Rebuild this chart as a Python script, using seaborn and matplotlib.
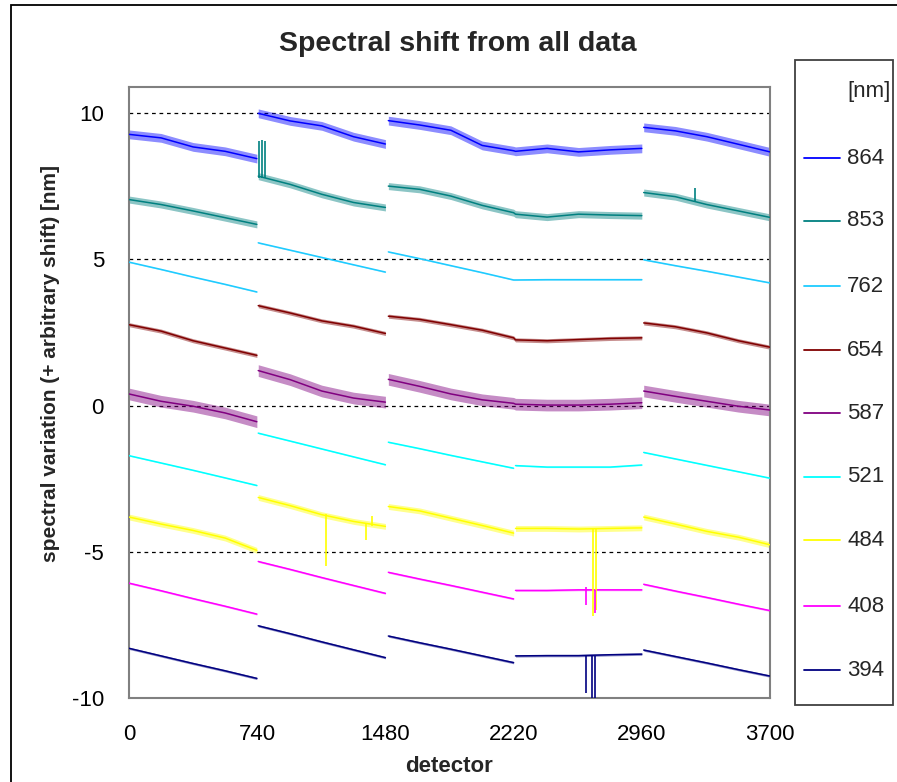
import numpy as np
import pandas as pd
import matplotlib
matplotlib.use("Agg")
import matplotlib.pyplot as plt
import seaborn as sns
from matplotlib.lines import Line2D
from matplotlib.patches import Rectangle

# ---------------- data ----------------
wavelengths = ["864", "853", "762", "654", "587", "521", "484", "408", "394"]

# detector positions of the anchor points (5 detector blocks, 5 anchors each)
x_anchor = [0, 185, 370, 555, 738,
            746, 930, 1113, 1296, 1480,
            1497, 1678, 1858, 2039, 2220,
            2231, 2413, 2595, 2778, 2960,
            2971, 3153, 3335, 3518, 3700]
block_id = [0] * 5 + [1] * 5 + [2] * 5 + [3] * 5 + [4] * 5

# series whose 3rd and 4th detector blocks run on without a break
joined_blocks_3_4 = ["864", "853", "762", "654", "587"]

y_864 = [9.28, 9.16, 8.85, 8.70, 8.45,
         10.00, 9.74, 9.57, 9.20, 8.95,
         9.75, 9.60, 9.42, 8.90, 8.72,
         8.70, 8.80, 8.68, 8.75, 8.80,
         9.52, 9.40, 9.20, 8.94, 8.68]
y_853 = [7.05, 6.88, 6.66, 6.43, 6.20,
         7.85, 7.57, 7.23, 6.95, 6.78,
         7.51, 7.40, 7.17, 6.85, 6.60,
         6.55, 6.45, 6.55, 6.52, 6.50,
         7.29, 7.15, 6.88, 6.66, 6.44]
y_762 = [4.91, 4.66, 4.40, 4.15, 3.89,
         5.57, 5.32, 5.07, 4.82, 4.57,
         5.26, 5.03, 4.79, 4.55, 4.30,
         4.30, 4.31, 4.31, 4.31, 4.31,
         4.99, 4.79, 4.60, 4.40, 4.20]
y_654 = [2.77, 2.55, 2.22, 1.97, 1.72,
         3.42, 3.17, 2.90, 2.72, 2.47,
         3.06, 2.95, 2.77, 2.58, 2.32,
         2.25, 2.22, 2.26, 2.30, 2.32,
         2.83, 2.70, 2.49, 2.22, 2.00]
y_587 = [0.40, 0.15, -0.02, -0.25, -0.55,
         1.20, 0.89, 0.50, 0.26, 0.12,
         0.90, 0.66, 0.40, 0.20, 0.08,
         0.05, 0.02, 0.02, 0.05, 0.10,
         0.50, 0.32, 0.15, -0.02, -0.15]
y_521 = [-1.71, -1.96, -2.21, -2.47, -2.73,
         -0.94, -1.21, -1.48, -1.75, -2.02,
         -1.25, -1.47, -1.70, -1.92, -2.14,
         -2.05, -2.10, -2.10, -2.10, -2.03,
         -1.60, -1.82, -2.04, -2.26, -2.48]
y_484 = [-3.81, -4.05, -4.27, -4.53, -4.95,
         -3.14, -3.42, -3.73, -3.96, -4.13,
         -3.45, -3.60, -3.85, -4.10, -4.36,
         -4.20, -4.20, -4.22, -4.20, -4.18,
         -3.81, -4.05, -4.30, -4.50, -4.76]
y_408 = [-6.07, -6.33, -6.60, -6.86, -7.13,
         -5.33, -5.60, -5.88, -6.15, -6.42,
         -5.70, -5.93, -6.15, -6.38, -6.61,
         -6.32, -6.32, -6.30, -6.30, -6.30,
         -6.11, -6.34, -6.56, -6.79, -7.01]
y_394 = [-8.30, -8.56, -8.82, -9.07, -9.33,
         -7.53, -7.80, -8.08, -8.35, -8.62,
         -7.88, -8.11, -8.33, -8.56, -8.79,
         -8.56, -8.55, -8.55, -8.52, -8.50,
         -8.36, -8.58, -8.80, -9.03, -9.25]

# typical half-width of the scatter around each curve
scatter_864, scatter_853, scatter_762 = 0.15, 0.12, 0.02
scatter_654, scatter_587, scatter_521 = 0.07, 0.20, 0.02
scatter_484, scatter_408, scatter_394 = 0.10, 0.03, 0.04

# single-pixel spikes: wavelength, detector, base value, tip value
spike_wl = ["853", "853", "853", "853",
            "484", "484", "484", "484", "484",
            "408", "408", "408",
            "394", "394", "394"]
spike_x = [752, 769, 786, 3266,
           1139, 1370, 1404, 2676, 2693,
           2636, 2640, 2688,
           2636, 2670, 2688]
spike_base = [7.80, 7.80, 7.80, 6.95,
              -3.70, -4.05, -4.10, -4.20, -4.20,
              -6.30, -6.30, -6.30,
              -8.55, -8.55, -8.55]
spike_tip = [9.05, 9.10, 9.05, 7.46,
             -5.50, -4.59, -3.77, -7.20, -7.00,
             -6.82, -6.20, -7.10,
             -9.84, -10.0, -10.0]

x_ticks = [0, 740, 1480, 2220, 2960, 3700]
y_ticks = [-10, -5, 0, 5, 10]

# ---------------- styling ----------------
colors = {"864": "#0000FF", "853": "#008080", "762": "#1ECBFF",
          "654": "#800000", "587": "#800080", "521": "#00FFFF",
          "484": "#FFFF00", "408": "#FF00FF", "394": "#000080"}

sns.set_style("white")
plt.rcParams["font.family"] = ["Liberation Sans", "DejaVu Sans"]

series = dict(zip(wavelengths, [y_864, y_853, y_762, y_654, y_587,
                                y_521, y_484, y_408, y_394]))
scatter = dict(zip(wavelengths, [scatter_864, scatter_853, scatter_762,
                                 scatter_654, scatter_587, scatter_521,
                                 scatter_484, scatter_408, scatter_394]))

rows = []
for wl in wavelengths:
    for xv, yv, b in zip(x_anchor, series[wl], block_id):
        unit = 2 if (b == 3 and wl in joined_blocks_3_4) else b
        rows.append({"detector": xv, "shift": yv, "wl": wl, "block": unit})
df = pd.DataFrame(rows)

W, H = 897, 782
fig = plt.figure(figsize=(W / 100, H / 100), dpi=100)
fig.patch.set_facecolor("white")

# outer frame of the figure
fig.add_artist(Rectangle((11 / W, -0.01), 1.02, 1 - 5 / H + 0.01,
                         transform=fig.transFigure, fill=False,
                         edgecolor="black", lw=1.3))

ax = fig.add_axes([129 / W, 1 - 698 / H, (770 - 129) / W, (698 - 87) / H])
ax.set_facecolor("white")

for gy in [-5, 0, 5, 10]:
    ax.axhline(gy, color="black", lw=0.9, ls=(0, (3, 3)), zorder=1)

# scatter bands
for wl in wavelengths:
    sub = df[df.wl == wl]
    for b, g in sub.groupby("block"):
        ax.fill_between(g.detector, g["shift"] - scatter[wl],
                        g["shift"] + scatter[wl], color=colors[wl],
                        alpha=0.45, lw=0, zorder=2)

sns.lineplot(data=df, x="detector", y="shift", hue="wl", units="block",
             estimator=None, palette=colors, hue_order=wavelengths,
             legend=False, lw=1.1, ax=ax, sort=False, zorder=3)

for wl, sx, sb, st in zip(spike_wl, spike_x, spike_base, spike_tip):
    ax.vlines(sx, sb, st, color=colors[wl], lw=1.2, zorder=3)

ax.set_xlim(0, 3700)
ax.set_ylim(-10, 10.9)
ax.set_xticks(x_ticks)
ax.set_yticks(y_ticks)
ax.set_xticklabels([str(v) for v in x_ticks])
ax.set_yticklabels([str(v) for v in y_ticks])
ax.set_xlabel("")
ax.set_ylabel("")
for s in ax.spines.values():
    s.set_visible(True)
    s.set_color("#808080")
    s.set_linewidth(1.5)
ax.tick_params(axis="both", direction="out", length=7, width=1.3,
               color="#808080", labelsize=16, labelcolor="black")
ax.tick_params(axis="x", pad=12)
ax.tick_params(axis="y", pad=11)

fig.text(458 / W, 1 - 51 / H, "Spectral shift from all data",
         fontsize=20.5, fontweight="bold", ha="center", va="baseline")
fig.text(51 / W, 1 - 364 / H, "spectral variation (+ arbitrary shift) [nm]",
         fontsize=15, fontweight="bold", rotation=90, ha="center", va="center")
fig.text(449.5 / W, 1 - 766 / H, "detector", fontsize=16,
         fontweight="bold", ha="center", va="center")

# legend box
fig.add_artist(Rectangle((795 / W, 1 - 705 / H), (893 - 795) / W,
                         (705 - 60) / H, transform=fig.transFigure,
                         fill=False, edgecolor="#404040", lw=1.3))
fig.text(847 / W, 1 - 92 / H, "[nm]", fontsize=16, ha="left", va="center")
legend_y = [158, 221, 286, 350, 413, 477, 540, 606, 670]
for wl, ly in zip(wavelengths, legend_y):
    fig.add_artist(Line2D([804 / W, 840 / W], [1 - ly / H, 1 - ly / H],
                          transform=fig.transFigure, color=colors[wl], lw=1.3))
    fig.text(847 / W, 1 - ly / H, wl, fontsize=16, ha="left", va="center")

fig.savefig("out.png", dpi=100, facecolor="white")
